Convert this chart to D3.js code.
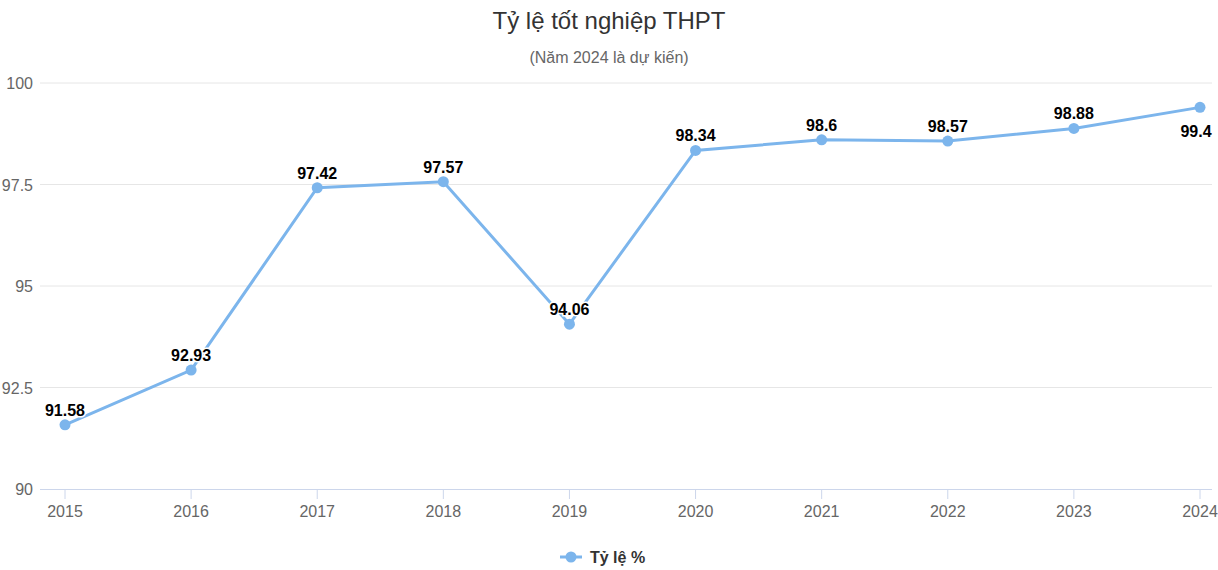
<!DOCTYPE html><html><head><meta charset="utf-8"><script src="https://cdn.jsdelivr.net/npm/d3@7"></script>
<style>body{margin:0;background:#fff;font-family:"Liberation Sans",Arial,sans-serif}</style></head><body><svg id="c" width="1218" height="570"></svg>
<script>
const years=["2015","2016","2017","2018","2019","2020","2021","2022","2023","2024"];
const values=[91.58,92.93,97.42,97.57,94.06,98.34,98.6,98.57,98.88,99.4];
const yTicks=[90,92.5,95,97.5,100];
const svg=d3.select("#c");
const x=d3.scalePoint().domain(years).range([65,1200]);
const y=d3.scaleLinear().domain([90,100]).range([489,83]);
svg.append("text").attr("x",609).attr("y",29).attr("text-anchor","middle").attr("font-size",24).attr("fill","#333").text("Tỷ lệ tốt nghiệp THPT");
svg.append("text").attr("x",609).attr("y",63).attr("text-anchor","middle").attr("font-size",16).attr("fill","#666").text("(Năm 2024 là dự kiến)");
yTicks.forEach(t=>{
 if(t>90)svg.append("line").attr("x1",40).attr("x2",1212).attr("y1",y(t)).attr("y2",y(t)).attr("stroke","#e6e6e6");
 svg.append("text").attr("x",33).attr("y",y(t)+6).attr("text-anchor","end").attr("font-size",16).attr("fill","#666").text(t);
});
svg.append("line").attr("x1",40).attr("x2",1212).attr("y1",489.5).attr("y2",489.5).attr("stroke","#ccd6eb");
years.forEach(d=>{
 svg.append("line").attr("x1",x(d)).attr("x2",x(d)).attr("y1",489).attr("y2",499).attr("stroke","#ccd6eb");
 svg.append("text").attr("x",x(d)).attr("y",517).attr("text-anchor","middle").attr("font-size",16).attr("fill","#666").text(d);
});
const pts=years.map((d,i)=>[x(d),y(values[i])]);
svg.append("path").attr("d",d3.line()(pts)).attr("fill","none").attr("stroke","#7cb5ec").attr("stroke-width",3);
pts.forEach((p,i)=>{
 svg.append("circle").attr("cx",p[0]).attr("cy",p[1]).attr("r",5.5).attr("fill","#7cb5ec");
 const last=i===pts.length-1;
 svg.append("text").attr("x",last?p[0]-4:p[0]).attr("y",last?p[1]+30:p[1]-9).attr("text-anchor","middle")
  .attr("font-size",16).attr("font-weight","bold").attr("fill","#000").attr("stroke","#fff").attr("stroke-width",3).attr("paint-order","stroke").text(values[i]);
});
svg.append("line").attr("x1",560).attr("x2",582).attr("y1",557).attr("y2",557).attr("stroke","#7cb5ec").attr("stroke-width",3);
svg.append("circle").attr("cx",571).attr("cy",557).attr("r",5.5).attr("fill","#7cb5ec");
svg.append("text").attr("x",590).attr("y",563).attr("font-size",16).attr("font-weight","bold").attr("fill","#333").text("Tỷ lệ %");
</script></body></html>
